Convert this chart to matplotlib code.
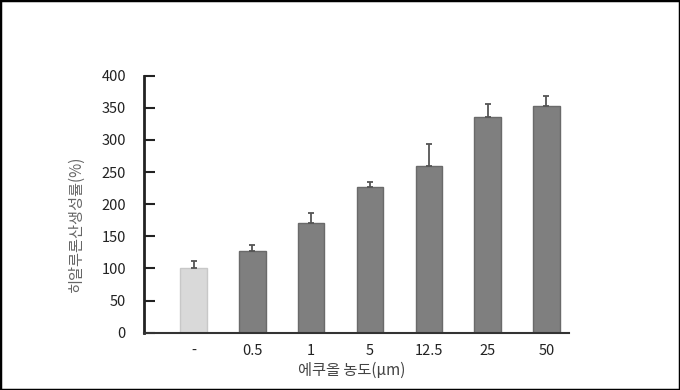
import matplotlib.pyplot as plt
from matplotlib.patches import Rectangle

plt.rcParams['font.family'] = ['Noto Sans CJK KR', 'DejaVu Sans']

# data
labels = ['-', '0.5', '1', '5', '12.5', '25', '50']
values = [100, 127, 171, 226, 260, 335, 353]
errors = [12, 10, 15, 8, 33, 21, 16]
colors = ['#d9d9d9'] + ['#7f7f7f'] * 6
edges = ['#c8c8c8'] + ['#6a6a6a'] * 6

fig = plt.figure(figsize=(6.8, 3.9), dpi=100)
ax = fig.add_axes([144/680, 1 - 332.7/390, (569.3 - 144)/680, (332.7 - 75.7)/390])

x = list(range(len(labels)))
ax.bar(x, values, width=0.45, color=colors, edgecolor=edges, linewidth=1,
       yerr=[[0]*len(errors), errors], capsize=2.5,
       error_kw=dict(ecolor='#555555', elinewidth=1.3, capthick=1.3), zorder=2)

ax.set_xlim(-0.845, 6.39)
ax.set_ylim(0, 400)
ax.set_yticks(range(0, 401, 50))
ax.set_xticks(x)
ax.set_xticklabels(labels)

for s in ['top', 'right']:
    ax.spines[s].set_visible(False)
ax.spines['left'].set_linewidth(2)
ax.spines['bottom'].set_linewidth(1.5)
ax.spines['left'].set_color('#222222')
ax.spines['bottom'].set_color('#333333')

ax.tick_params(axis='y', direction='in', length=8, width=1.5, pad=13,
               labelsize=10.5, labelcolor='#222222', color='#222222')
ax.tick_params(axis='x', length=0, pad=8, labelsize=10.5, labelcolor='#222222')

ax.set_ylabel('히알루론산생성률(%)', fontsize=11, color='#666666')
ax.yaxis.set_label_coords(-59/425.3, (332.7 - 224) / 257)
ax.set_xlabel('에쿠올 농도(μm)', fontsize=11, color='#444444')
ax.xaxis.set_label_coords((352 - 144) / 425.3, -(362 - 332.7) / 257)

fig.patches.append(Rectangle((0, 0), 1, 1, transform=fig.transFigure,
                             fill=False, edgecolor='black', linewidth=2.5))

fig.savefig('out.png', dpi=100)
